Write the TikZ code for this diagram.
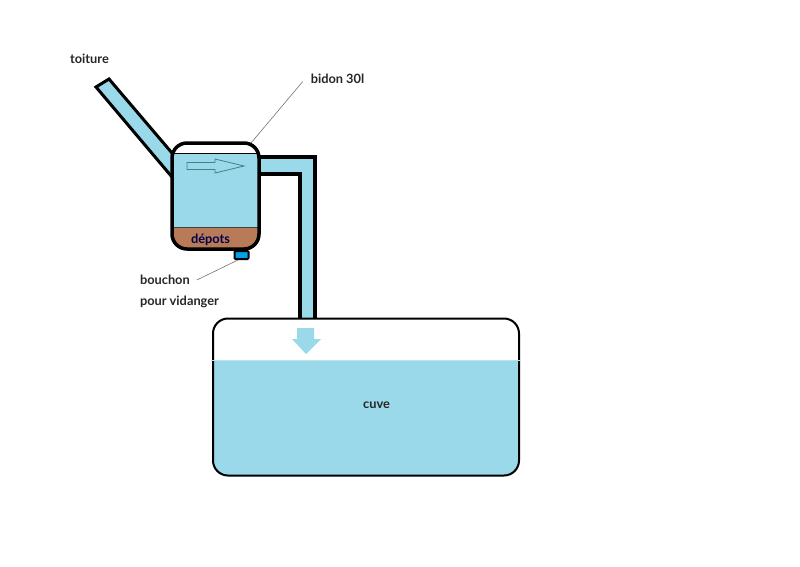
\documentclass[tikz,border=0pt]{standalone}
\usepackage{fontspec}
\setmainfont{Lato}
\definecolor{eau}{RGB}{153,217,234}
\definecolor{depot}{RGB}{185,122,87}
\definecolor{bouchonbleu}{RGB}{0,162,232}
\tikzset{
  label text/.style={font=\fontsize{12.8}{15}\selectfont\bfseries, text=black!85, inner sep=0pt, outer sep=0pt},
  leader/.style={draw=black!55, line width=0.6pt},
  paroi/.style={draw=black, line width=3.5pt, line join=miter}
}
\begin{document}
\begin{tikzpicture}[x=1pt,y=-1pt]
  \useasboundingbox (0,0) rectangle (800,566);
  % Draw inlet pipe
  \draw[fill=eau, line width=3pt, line join=miter] (172,177) -- (96,87) -- (109,79) -- (172,153);
  % Draw outlet pipe
  \fill[eau] (258,158) -- (315,158) -- (315,318) -- (299,318) -- (299,174) -- (258,174) -- cycle;
  \draw[paroi] (258,157) -- (315,157) -- (315,318);
  \draw[paroi] (258,174) -- (300,174) -- (300,318);
  % Draw drum
  \fill[eau] (173,153) rectangle (259,227);
  \begin{scope}
    \clip (173,228) rectangle (259,250);
    \fill[depot] (172,143) [rounded corners=15pt] -- (259,143) -- (259,249) -- (172,249) -- cycle;
  \end{scope}
  \draw[black, line width=1pt] (173,153) -- (259,153);
  \draw[black!75, line width=1pt] (173,227.5) -- (259,227.5);
  \draw[line width=3.5pt, rounded corners=15pt] (172,143) rectangle (259,249);
  % Draw plug
  \draw[fill=bouchonbleu, line width=2pt, rounded corners=1pt] (234.5,251) rectangle (248.5,259);
  % Draw flow arrows
  \draw[draw=teal!45!gray, fill=eau, line width=0.8pt]
    (187,162.5) -- (215,162.5) -- (215,159) -- (244,166) -- (215,173) -- (215,169.5) -- (187,169.5) -- cycle;
  % Draw tank
  \begin{scope}
    \clip (212,360) rectangle (520,477);
    \fill[eau, rounded corners=15pt] (213,300) rectangle (519,476);
  \end{scope}
  \draw[line width=2pt, rounded corners=15pt] (213,318.5) rectangle (519,475.5);
  \fill[eau!70!white] (211,359.5) rectangle (521,361);
  \fill[eau] (297,328) -- (314,328) -- (314,339) -- (321,339) -- (306,354) -- (292,339) -- (297,339) -- cycle;
  % Add labels
  \node[label text] (toiture) at (89.5,58.5) {toiture};
  \node[label text] (bidonlabel) at (337.5,78.5) {bidon 30l};
  \node[label text, anchor=west] (bouchonlabel) at (140,280) {bouchon};
  \node[label text, anchor=west] (vidanger) at (140,302) {pour vidanger};
  \node[label text, text=black!70!blue] (depots) at (210.5,239.5) {dépots};
  \node[label text] (cuve) at (376.5,405.5) {cuve};
  % Add leader lines
  \coordinate (bidontop) at (251,143);
  \coordinate (bouchonbas) at (238,260);
  \draw[leader] (bidonlabel.west) ++(-8,3) -- (bidontop);
  \draw[leader] (bouchonlabel.east) ++(7,0) -- (bouchonbas);
\end{tikzpicture}
\end{document}
